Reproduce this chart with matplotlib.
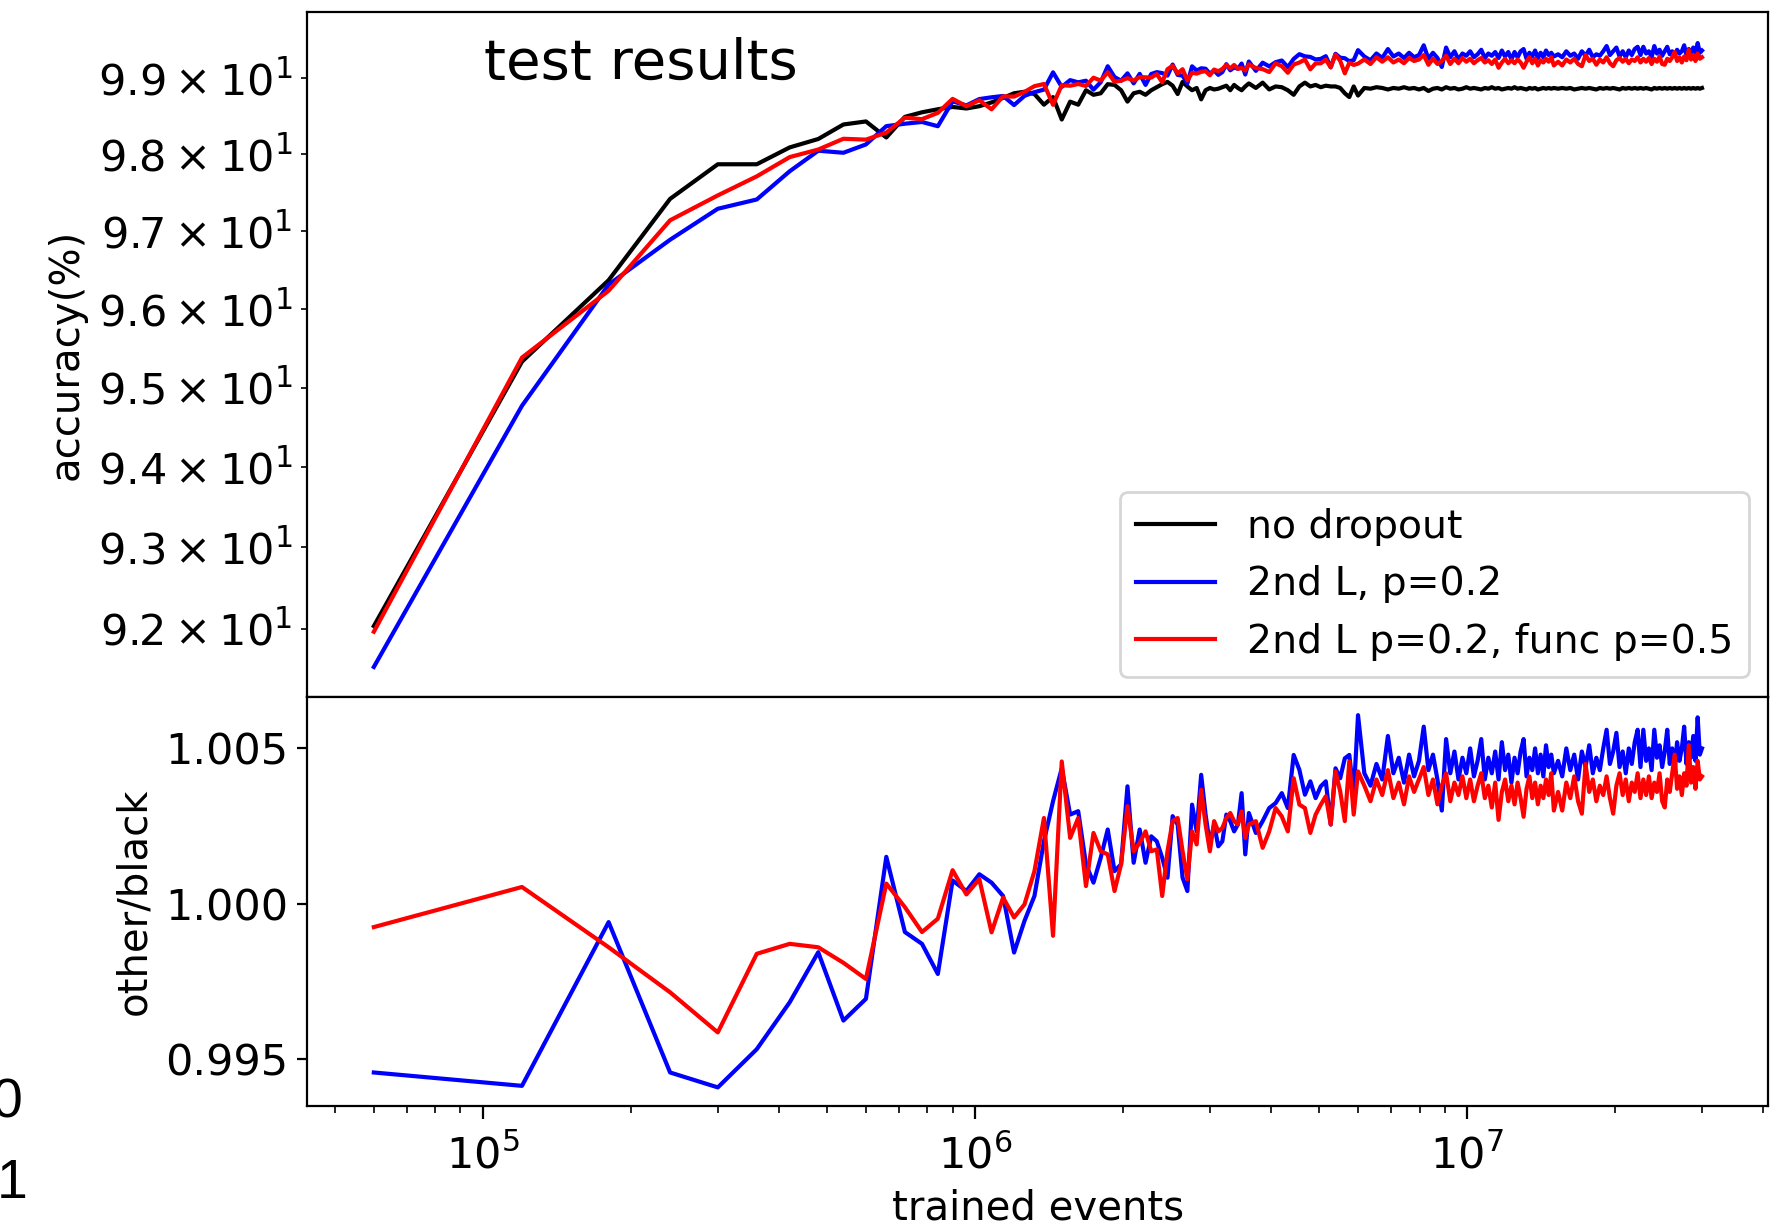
import numpy as np
import matplotlib
matplotlib.use("Agg")
import matplotlib.pyplot as plt
from matplotlib.ticker import ScalarFormatter

# training epochs at which the test set was evaluated (60000 MNIST events per epoch)
epochs = [
    1, 2, 3, 4, 5, 6, 7, 8, 9, 10, 11, 12, 13, 14, 15, 16, 17, 18, 19, 20,
    21, 22, 23, 24, 25, 26, 27, 28, 29, 30, 31, 32, 33, 34, 35, 36, 37, 38, 39, 40,
    41, 42, 43, 44, 45, 46, 47, 48, 49, 50, 51, 52, 53, 54, 55, 56, 57, 58, 59, 60,
    62, 64, 66, 68, 70, 72, 74, 76, 78, 80, 82, 84, 86, 88, 90, 92, 94, 96, 98, 100,
    103, 106, 109, 112, 115, 118, 121, 124, 127, 130, 133, 136, 139, 142, 145, 148,
    151, 154, 157, 160, 163, 166, 169, 172, 175, 178, 181, 184, 187, 190, 193, 196,
    199, 202, 205, 208, 211, 214, 217, 220, 223, 226, 229, 232, 235, 238, 241, 244,
    247, 250,
    255, 260, 265, 270, 275, 280, 285, 290, 295, 300, 305, 310, 315, 320, 325, 330,
    335, 340, 345, 350, 355, 360, 365, 370, 375, 380, 385, 390, 395, 400, 405, 410,
    415, 420, 425, 430, 435, 440, 445, 450, 455, 460, 465, 470, 475, 480, 485, 490,
    495, 500,
]
events_per_epoch = 60000

# test accuracy (%) without dropout
acc_no_dropout = [
    92.03, 95.33, 96.37, 97.42, 97.87, 97.87, 98.09, 98.20, 98.39, 98.43,
    98.22, 98.49, 98.55, 98.59, 98.62, 98.60, 98.63, 98.68,
    98.74, 98.80, 98.82, 98.79, 98.65, 98.75, 98.455, 98.69, 98.65, 98.84,
    98.78, 98.80, 98.92, 98.91, 98.84, 98.69, 98.80, 98.82, 98.78, 98.84,
    98.88, 98.92, 98.95, 98.90, 98.79, 98.95, 98.89, 98.84, 98.87, 98.72,
    98.84, 98.87, 98.85, 98.86, 98.88, 98.90, 98.84, 98.91, 98.87, 98.84,
    98.89, 98.93,
    98.87, 98.94, 98.85, 98.89, 98.88, 98.84, 98.78, 98.89, 98.94, 98.89,
    98.91, 98.88, 98.90, 98.89, 98.89, 98.87, 98.80, 98.75, 98.89, 98.77,
    98.87, 98.86, 98.88, 98.87, 98.85, 98.87, 98.86, 98.88, 98.86, 98.87,
    98.85, 98.87, 98.83, 98.86, 98.87, 98.85, 98.88, 98.86, 98.87, 98.85,
    98.86, 98.88, 98.86, 98.87, 98.86, 98.85, 98.87, 98.86, 98.88, 98.86,
    98.87, 98.85, 98.86, 98.87, 98.86, 98.88, 98.86, 98.87, 98.86, 98.85,
    98.87, 98.86, 98.87, 98.85, 98.86, 98.87, 98.86, 98.87, 98.86, 98.87,
    98.86, 98.87, 98.86, 98.87, 98.85, 98.86, 98.87, 98.86, 98.87, 98.86,
    98.85, 98.87, 98.86, 98.87, 98.86, 98.87, 98.86, 98.85, 98.87, 98.86,
    98.87, 98.86, 98.87, 98.86, 98.87, 98.86, 98.87, 98.86, 98.85, 98.87,
    98.86, 98.87, 98.86, 98.87, 98.86, 98.87, 98.86, 98.87, 98.86, 98.87,
    98.86, 98.87, 98.86, 98.87, 98.86, 98.87, 98.86, 98.87, 98.86, 98.87,
]

# accuracy ratio to the no-dropout run: dropout in 2nd layer, p=0.2
ratio_2nd = [
    0.99457, 0.99414, 0.99941, 0.99457, 0.99409, 0.99532, 0.99683, 0.99844, 0.99624, 0.99694,
    1.00151, 0.99909, 0.99871, 0.99774, 1.00075, 1.00041, 1.00095, 1.00068, 1.00025, 0.99843,
    0.99945, 1.00025, 1.00201, 1.00330, 1.00436, 1.00287, 1.00298, 1.00127, 1.00068, 1.00148,
    1.00239, 1.00105, 1.00127, 1.00378, 1.00132, 1.00239, 1.00132, 1.00217, 1.00201, 1.00148,
    1.00084, 1.00282, 1.00255, 1.00084, 1.00041, 1.00319, 1.00233, 1.00415, 1.00287, 1.00191,
    1.00255, 1.00185, 1.00201, 1.00287, 1.00266, 1.00233, 1.00255, 1.00356, 1.00159, 1.00292,
    1.00228, 1.00266, 1.00308, 1.00324, 1.00356, 1.00308, 1.00479, 1.00431, 1.00351, 1.00394,
    1.00340, 1.00378, 1.00394, 1.00255, 1.00436, 1.00404, 1.00468, 1.00479, 1.00351, 1.00607,
    1.00420, 1.00380, 1.00450, 1.00400, 1.00540, 1.00420, 1.00470, 1.00390, 1.00480, 1.00410,
    1.00460, 1.00570, 1.00430, 1.00480, 1.00400, 1.00300, 1.00530, 1.00420, 1.00490, 1.00400,
    1.00470, 1.00420, 1.00500, 1.00410, 1.00460, 1.00530, 1.00400, 1.00470, 1.00420, 1.00490,
    1.00400, 1.00520, 1.00430, 1.00480, 1.00390, 1.00470, 1.00420, 1.00490, 1.00530, 1.00410,
    1.00470, 1.00430, 1.00500, 1.00420, 1.00480, 1.00410, 1.00510, 1.00440, 1.00480, 1.00420,
    1.00460, 1.00410, 1.00500, 1.00430, 1.00480, 1.00400, 1.00490, 1.00440, 1.00510, 1.00420,
    1.00470, 1.00430, 1.00500, 1.00560, 1.00450, 1.00490, 1.00550, 1.00440, 1.00490, 1.00420,
    1.00500, 1.00450, 1.00520, 1.00560, 1.00440, 1.00560, 1.00460, 1.00500, 1.00430, 1.00560,
    1.00470, 1.00510, 1.00440, 1.00490, 1.00560, 1.00450, 1.00500, 1.00430, 1.00520, 1.00460,
    1.00500, 1.00570, 1.00450, 1.00520, 1.00470, 1.00540, 1.00460, 1.00600, 1.00480, 1.00500,
]

# accuracy ratio to the no-dropout run: 2nd layer p=0.2 plus func p=0.5
ratio_2nd_func = [
    0.99925, 1.00054, 0.99860, 0.99715, 0.99586, 0.99839, 0.99871, 0.99860, 0.99810, 0.99758,
    1.00065, 0.99989, 0.99909, 0.99952, 1.00108, 1.00030, 1.00079, 0.99908, 1.00020, 0.99956,
    0.99998, 1.00105, 1.00276, 0.99897, 1.00458, 1.00212, 1.00276, 1.00057, 1.00228, 1.00169,
    1.00159, 1.00041, 1.00127, 1.00314, 1.00169, 1.00196, 1.00233, 1.00169, 1.00175, 1.00025,
    1.00169, 1.00266, 1.00276, 1.00169, 1.00079, 1.00233, 1.00191, 1.00367, 1.00255, 1.00169,
    1.00266, 1.00233, 1.00244, 1.00276, 1.00292, 1.00266, 1.00255, 1.00297, 1.00212, 1.00255,
    1.00266, 1.00180, 1.00233, 1.00308, 1.00281, 1.00233, 1.00404, 1.00319, 1.00308, 1.00228,
    1.00287, 1.00319, 1.00346, 1.00255, 1.00426, 1.00362, 1.00266, 1.00458, 1.00287, 1.00426,
    1.00380, 1.00330, 1.00400, 1.00350, 1.00430, 1.00340, 1.00390, 1.00320, 1.00410, 1.00360,
    1.00400, 1.00440, 1.00350, 1.00400, 1.00320, 1.00380, 1.00420, 1.00330, 1.00390, 1.00350,
    1.00410, 1.00340, 1.00400, 1.00330, 1.00380, 1.00420, 1.00340, 1.00380, 1.00310, 1.00390,
    1.00270, 1.00360, 1.00400, 1.00330, 1.00380, 1.00320, 1.00390, 1.00340, 1.00280, 1.00370,
    1.00410, 1.00340, 1.00390, 1.00320, 1.00380, 1.00340, 1.00400, 1.00350, 1.00420, 1.00300,
    1.00360, 1.00300, 1.00390, 1.00340, 1.00410, 1.00330, 1.00290, 1.00450, 1.00360, 1.00400,
    1.00330, 1.00380, 1.00350, 1.00410, 1.00340, 1.00290, 1.00380, 1.00420, 1.00350, 1.00400,
    1.00330, 1.00390, 1.00360, 1.00420, 1.00340, 1.00400, 1.00350, 1.00410, 1.00340, 1.00390,
    1.00360, 1.00420, 1.00330, 1.00310, 1.00400, 1.00360, 1.00420, 1.00480, 1.00370, 1.00410,
    1.00350, 1.00420, 1.00380, 1.00510, 1.00390, 1.00440, 1.00370, 1.00460, 1.00400, 1.00410,
]

legend_labels = ["no dropout", "2nd L, p=0.2", "2nd L p=0.2, func p=0.5"]

trained = np.array(epochs) * events_per_epoch
acc_black = np.array(acc_no_dropout)
acc_blue = acc_black * np.array(ratio_2nd)
acc_red = acc_black * np.array(ratio_2nd_func)

plt.rcParams["font.family"] = ["DejaVu Sans"]
plt.rcParams["font.size"] = 14.2
plt.rcParams["axes.labelsize"] = 14.5
plt.rcParams["xtick.labelsize"] = 15.5
plt.rcParams["ytick.labelsize"] = 15.5
plt.rcParams["mathtext.fontset"] = "dejavusans"

fig = plt.figure(figsize=(8.865, 6.15), dpi=200)
ax1 = fig.add_axes([0.1734, 0.4337, 0.8240, 0.5562])
ax2 = fig.add_axes([0.1734, 0.1008, 0.8240, 0.3329], sharex=ax1)

# upper panel: accuracy on log scale
ax1.plot(trained, acc_black, color="k", lw=1.5, label=legend_labels[0])
ax1.plot(trained, acc_blue, color="b", lw=1.5, label=legend_labels[1])
ax1.plot(trained, acc_red, color="r", lw=1.5, label=legend_labels[2])
ax1.set_xscale("log")
ax1.set_yscale("log")
ax1.set_ylim(91.17, 99.87)
ax1.set_ylabel("accuracy(%)")
ax1.tick_params(labelbottom=False)
ax1.legend(loc="lower right", fontsize=14.2)
ax1.text(0.121, 0.903, "test results", transform=ax1.transAxes,
         fontsize=20.2, va="baseline", ha="left")

# lower panel: ratio to the run without dropout
ax2.plot(trained, ratio_2nd, color="b", lw=1.5)
ax2.plot(trained, ratio_2nd_func, color="r", lw=1.5)
ax2.set_ylabel("other/black")
ax2.set_xlabel("trained events")
ax2.yaxis.set_major_formatter(ScalarFormatter(useOffset=False))
ax2.tick_params(axis="x", which="major", length=4.8, pad=5.5)
ax2.tick_params(axis="x", which="minor", length=2.6)

# stray labels at the left margin
fig.text(-8 / 1773, 1 - 1117 / 1230, "0", family="Liberation Sans",
         fontsize=20, ha="left", va="baseline")
fig.text(-3 / 1773, 1 - 1198 / 1230, "1", family="Liberation Sans",
         fontsize=20, ha="left", va="baseline")

fig.savefig("out.png", dpi=200)
